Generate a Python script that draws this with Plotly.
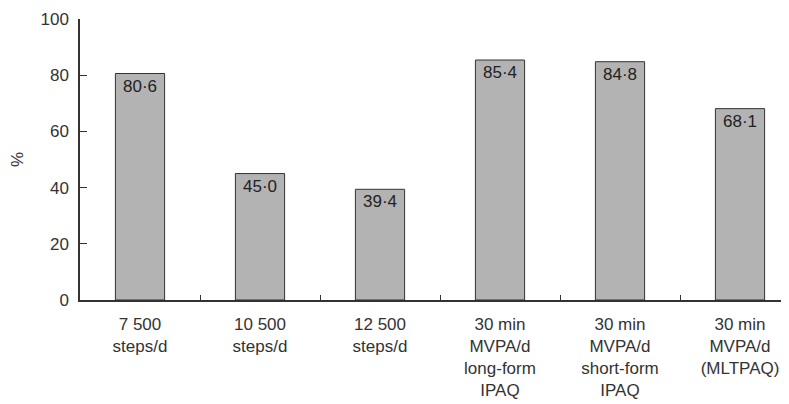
import plotly.graph_objects as go

categories = ["7 500<br>steps/d", "10 500<br>steps/d", "12 500<br>steps/d",
              "30 min<br>MVPA/d<br>long-form<br>IPAQ",
              "30 min<br>MVPA/d<br>short-form<br>IPAQ",
              "30 min<br>MVPA/d<br>(MLTPAQ)"]
values = [80.6, 45.0, 39.4, 85.4, 84.8, 68.1]
labels = ["80·6", "45·0", "39·4", "85·4", "84·8", "68·1"]
y_ticks = [0, 20, 40, 60, 80, 100]

font = "Liberation Sans, Arial, sans-serif"

fig = go.Figure(go.Bar(
    x=categories, y=values, text=labels,
    textposition="inside", insidetextanchor="end",
    textfont=dict(family=font, size=17, color="#222"),
    constraintext="none",
    marker=dict(color="#b3b3b3", line=dict(color="#333", width=1)),
    width=0.41,
))

fig.update_layout(
    width=789, height=404,
    margin=dict(l=72, r=0, t=11, b=112),
    plot_bgcolor="white", paper_bgcolor="white",
    showlegend=False,
    font=dict(family=font, size=17, color="#333"),
    uniformtext=dict(minsize=17, mode="show"),
)
fig.update_xaxes(
    type="category", range=[-0.5, 5.475], automargin=False,
    showline=True, linecolor="#333", linewidth=1.5,
    ticks="inside", tickson="boundaries", ticklen=5, tickcolor="#333",
    tickfont=dict(family=font, size=17, color="#333"),
    ticklabelstandoff=8,
    showgrid=False,
)
fig.update_yaxes(
    range=[0, 100], tickvals=y_ticks, automargin=False,
    showline=True, linecolor="#333", linewidth=1.5,
    ticks="inside", ticklen=7, tickcolor="#333",
    tickfont=dict(family=font, size=17, color="#333"),
    ticklabelstandoff=6,
    showgrid=False, zeroline=False,
    title=dict(text="%", font=dict(family=font, size=17, color="#333"), standoff=26),
)

fig.write_html("out.html")
